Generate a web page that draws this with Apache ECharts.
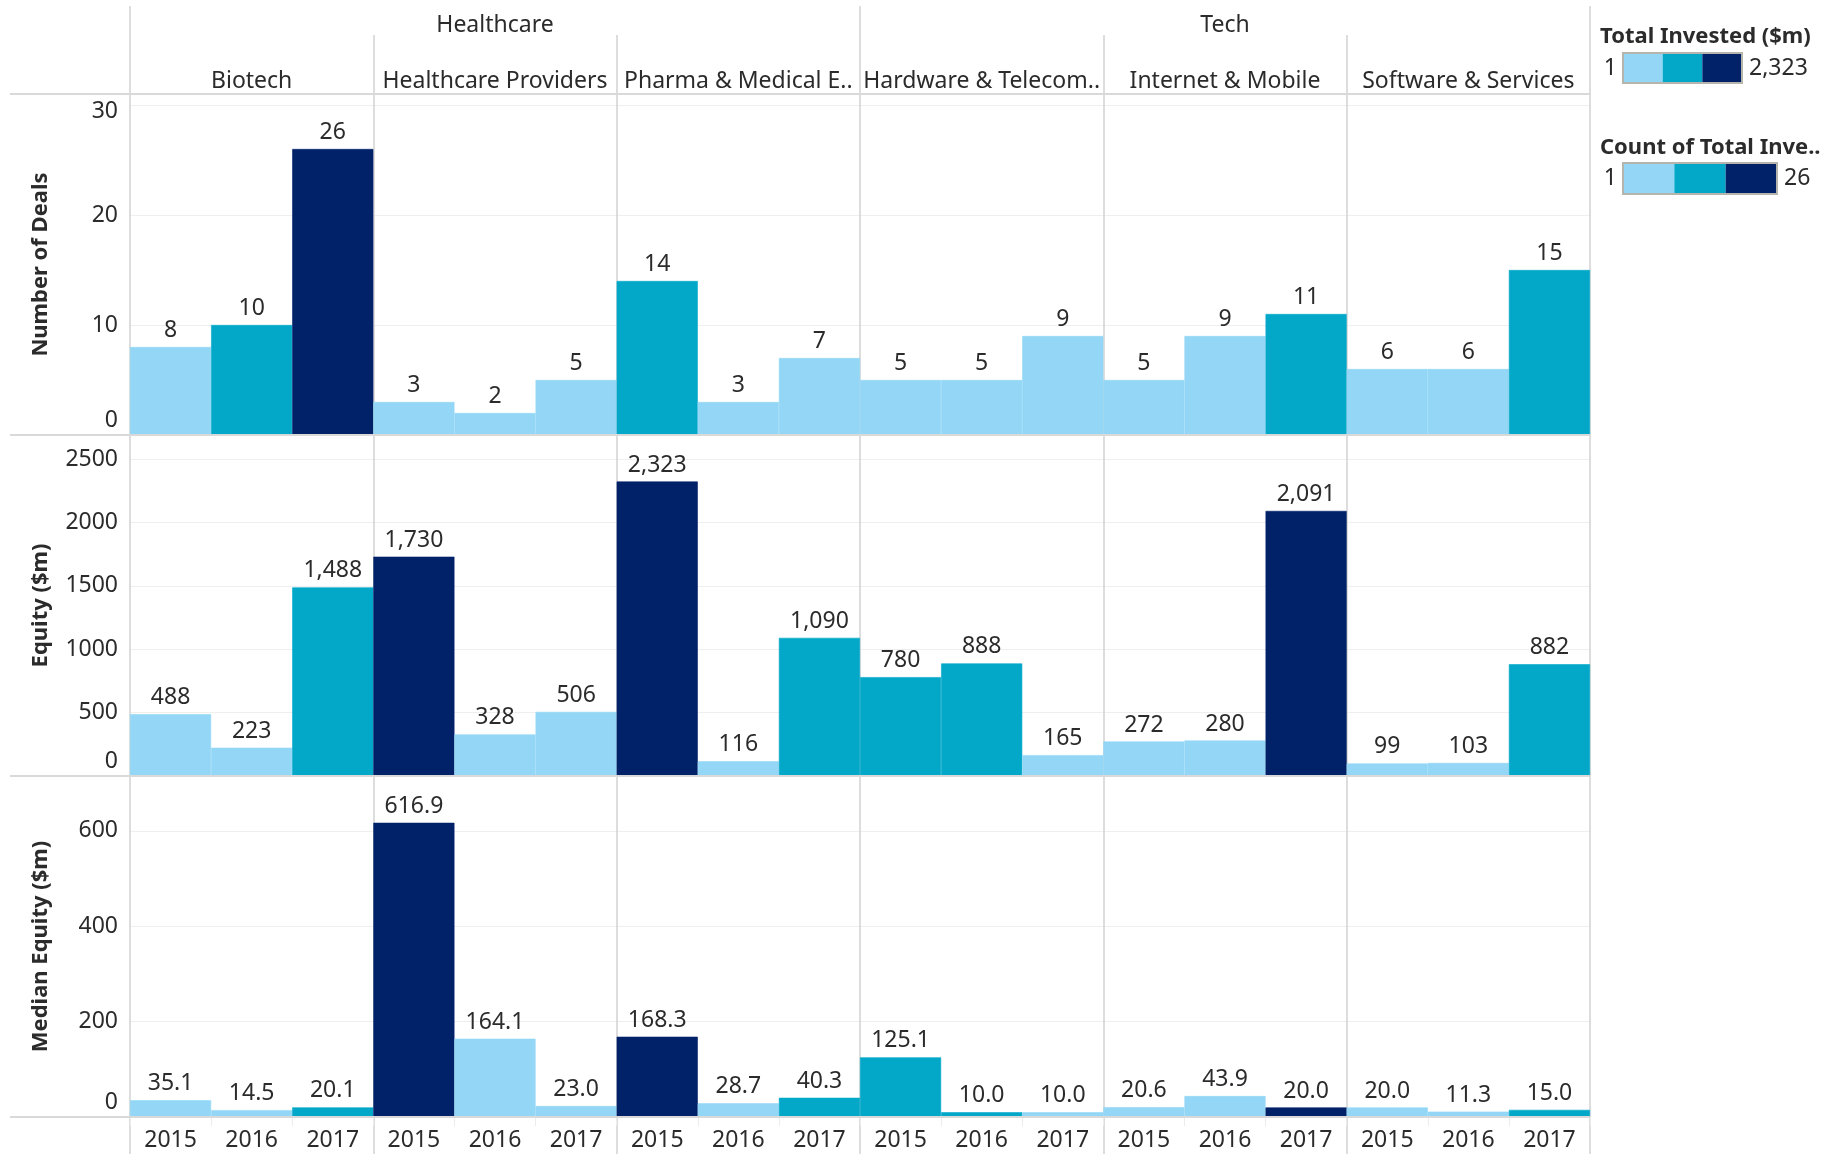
<!DOCTYPE html>
<html>
<head>
<meta charset="utf-8">
<title>Deals and equity by industry</title>
<script src="https://cdn.jsdelivr.net/npm/echarts@6/dist/echarts.min.js"></script>
<style>
  html, body { margin: 0; padding: 0; background: #fff; }
  #chart { width: 1825px; height: 1154px; }
</style>
</head>
<body>
<div id="chart"></div>
<script>
  // data
  const groups = ["Healthcare", "Tech"];
  const industries = ["Biotech", "Healthcare Providers", "Pharma & Medical E..", "Hardware & Telecom..", "Internet & Mobile", "Software & Services"];
  const years = ["2015", "2016", "2017"];
  // one value per industry x year, in industry order
  const deals = [8, 10, 26, 3, 2, 5, 14, 3, 7, 5, 5, 9, 5, 9, 11, 6, 6, 15];
  const equity = [488, 223, 1488, 1730, 328, 506, 2323, 116, 1090, 780, 888, 165, 272, 280, 2091, 99, 103, 882];
  const medianEquity = [35.1, 14.5, 20.1, 616.9, 164.1, 23.0, 168.3, 28.7, 40.3, 125.1, 10.0, 10.0, 20.6, 43.9, 20.0, 20.0, 11.3, 15.0];
  const equityRange = [1, 2323];
  const dealsRange = [1, 26];

  const stepColors = ["#93d6f6", "#03a8c9", "#012169"];
  const font = "'Noto Sans', sans-serif";
  const textColor = "#2b2b2b";
  const sepColor = "#d2d2d2";

  // layout
  const gridLeft = 130, gridRight = 235, rowH = 341;
  const rowTop = [94, 435, 776];

  const categories = [];
  industries.forEach(() => years.forEach(y => categories.push(y)));

  function stepColor(v, range) {
    let i = Math.floor((v - range[0]) / (range[1] - range[0]) * 3);
    return stepColors[Math.max(0, Math.min(2, i))];
  }
  const everyThird = i => i % 3 === 0;

  const rows = [
    { name: "Number of Deals", values: deals, colorBy: deals, range: dealsRange, max: 31, interval: 10, fmt: v => String(v) },
    { name: "Equity ($m)", values: equity, colorBy: equity, range: equityRange, max: 2690, interval: 500, fmt: v => v.toLocaleString("en-US") },
    { name: "Median Equity ($m)", values: medianEquity, colorBy: equity, range: equityRange, max: 715, interval: 200, fmt: v => v.toFixed(1) }
  ];

  const richBase = { fontSize: 23, fontFamily: font, color: textColor };

  const grid = rows.map((r, i) => ({ left: gridLeft, right: gridRight, top: rowTop[i], height: rowH }));

  const xAxis = rows.map((r, i) => ({
    type: "category",
    gridIndex: i,
    position: "bottom",
    data: categories,
    axisLine: { show: false },
    axisTick: { show: i === 2, interval: everyThird, length: 37, lineStyle: { color: sepColor, width: 1.5 } },
    axisLabel: { show: i === 2, interval: 0, margin: 12, fontSize: 23, fontFamily: font, color: textColor },
    splitLine: { show: true, interval: everyThird, lineStyle: { color: sepColor, width: 1.5 } }
  }));
  // group header
  xAxis.push({
    type: "category", gridIndex: 0, position: "top", offset: 59, data: groups,
    axisLine: { show: false },
    axisTick: { show: true, interval: 0, length: 29, lineStyle: { color: sepColor, width: 1.5 } },
    axisLabel: { margin: -2, fontSize: 23, fontFamily: font, color: textColor },
    splitLine: { show: false }
  });
  // industry header
  xAxis.push({
    type: "category", gridIndex: 0, position: "top", offset: 0, data: industries,
    axisLine: { show: false },
    axisTick: { show: true, interval: 0, length: 59, lineStyle: { color: sepColor, width: 1.5 } },
    axisLabel: { interval: 0, margin: 1.5, fontSize: 23, fontFamily: font, color: textColor },
    splitLine: { show: false }
  });
  // faint year ticks under the bottom row
  xAxis.push({
    type: "category", gridIndex: 2, position: "bottom", data: categories,
    axisLine: { show: false },
    axisTick: { show: true, interval: 0, length: 9, lineStyle: { color: "#ececec" } },
    axisLabel: { show: false },
    splitLine: { show: false }
  });

  const yAxis = rows.map((r, i) => ({
    type: "value",
    gridIndex: i,
    min: 0,
    max: r.max,
    interval: r.interval,
    name: r.name,
    nameLocation: "middle",
    nameGap: 78,
    nameTextStyle: { fontSize: 22, fontWeight: "bold", fontFamily: font, color: textColor },
    axisLine: { show: false },
    axisTick: { show: false },
    axisLabel: {
      margin: 12,
      fontSize: 23,
      fontFamily: font,
      color: textColor,
      showMaxLabel: false,
      formatter: v => {
        if (v % r.interval !== 0) return "";
        if (v === 0) return "{lo|0}";
        if (r.max - v < r.max * 0.05) return "{hi|" + v + "}";
        return String(v);
      },
      rich: {
        lo: Object.assign({ padding: [0, 0, 30, 0] }, richBase),
        hi: Object.assign({ padding: [12, 0, 0, 0] }, richBase)
      }
    },
    splitLine: { show: true, lineStyle: { color: "#efefef", width: 1 } }
  }));

  const series = rows.map((r, i) => ({
    type: "bar",
    xAxisIndex: i,
    yAxisIndex: i,
    barCategoryGap: "0%",
    data: r.values.map((v, k) => {
      const c = stepColor(r.colorBy[k], r.range);
      return { value: v, itemStyle: { color: c, borderColor: c, borderWidth: 0.6 } };
    }),
    label: {
      show: true,
      position: "top",
      distance: 5,
      fontSize: 23,
      fontFamily: font,
      color: textColor,
      formatter: p => r.fmt(p.value)
    }
  }));

  // horizontal separators between header and rows
  const graphic = [];
  [94, 435, 776, 1117].forEach(y => {
    graphic.push({
      type: "line", z: 10,
      shape: { x1: 10, y1: y, x2: 1825 - gridRight, y2: y },
      style: { stroke: "#d9d9d9", lineWidth: 2 }
    });
  });

  // colour legends
  const legends = [
    { title: "Total Invested ($m)", range: equityRange, titleTop: 26, bar: [1623, 53, 119, 30] },
    { title: "Count of Total Inve..", range: dealsRange, titleTop: 137, bar: [1623, 163, 154, 31] }
  ];
  legends.forEach(lg => {
    const [bx, by, bw, bh] = lg.bar;
    graphic.push({
      type: "text", left: 1600, top: lg.titleTop,
      style: { text: lg.title, font: "bold 22px " + font, fill: textColor }
    });
    graphic.push({
      type: "text", x: 1617, y: by + bh / 2,
      style: { text: lg.range[0].toLocaleString("en-US"), font: "23px " + font, fill: textColor, align: "right", verticalAlign: "middle" }
    });
    stepColors.forEach((c, k) => {
      graphic.push({
        type: "rect",
        shape: { x: bx + bw * k / 3, y: by, width: bw / 3, height: bh },
        style: { fill: c }
      });
    });
    graphic.push({
      type: "rect",
      shape: { x: bx, y: by, width: bw, height: bh },
      style: { fill: null, stroke: "#b5b5ad", lineWidth: 2 }
    });
    graphic.push({
      type: "text", x: bx + bw + 7, y: by + bh / 2,
      style: { text: lg.range[1].toLocaleString("en-US"), font: "23px " + font, fill: textColor, align: "left", verticalAlign: "middle" }
    });
  });

  const chart = echarts.init(document.getElementById("chart"));
  chart.setOption({
    animation: false,
    backgroundColor: "#fff",
    grid: grid,
    xAxis: xAxis,
    yAxis: yAxis,
    series: series,
    graphic: graphic
  });
  window.addEventListener("resize", () => chart.resize());
</script>
</body>
</html>
